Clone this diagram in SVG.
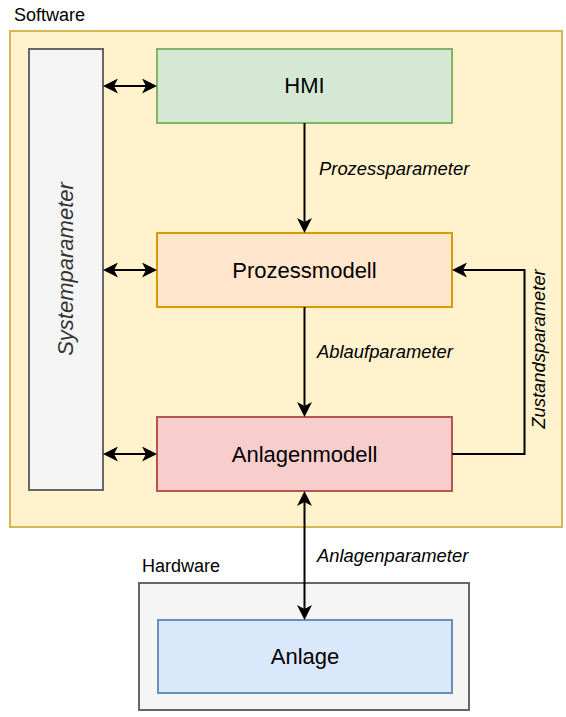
<svg xmlns="http://www.w3.org/2000/svg" width="566" height="717" viewBox="0 0 566 717">
<style>
  .lbl { font-family: "Liberation Sans", Arial, sans-serif; font-size: 22px; fill: #000000; text-anchor: middle; }
  .small { font-family: "Liberation Sans", Arial, sans-serif; font-size: 18px; fill: #000000; }
  .edge { font-family: "Liberation Sans", Arial, sans-serif; font-size: 18.4px; font-style: italic; fill: #000000; }
  .conn { fill: none; stroke: #000000; stroke-width: 2; }
</style>
<defs>
  <marker id="arr" viewBox="0 0 15 15" refX="11" refY="7.5" markerWidth="15" markerHeight="15" markerUnits="userSpaceOnUse" orient="auto-start-reverse">
    <path d="M0,0 L15,7.5 L0,15 L4,7.5 Z" fill="#000000"/>
  </marker>
</defs>
<rect width="566" height="717" fill="#ffffff"/>

<g id="software">
  <rect x="10" y="31" width="552" height="496" fill="#fff2cc" stroke="#d6b656" stroke-width="2"/>
  <text class="small" x="14" y="21">Software</text>
</g>

<g id="hardware">
  <rect x="139" y="583" width="330" height="127" fill="#f5f5f5" stroke="#666666" stroke-width="2"/>
  <text class="small" x="142" y="572">Hardware</text>
</g>

<g id="systemparameter">
  <rect x="29" y="49" width="74" height="441" fill="#f5f5f5" stroke="#666666" stroke-width="2"/>
  <text class="lbl" style="font-style:italic;fill:#333333" transform="translate(73,269) rotate(-90)">Systemparameter</text>
</g>

<g id="hmi">
  <rect x="157" y="49" width="295" height="74" fill="#d5e8d4" stroke="#82b366" stroke-width="2"/>
  <text class="lbl" x="304.5" y="93">HMI</text>
</g>

<g id="prozessmodell">
  <rect x="157" y="233" width="295" height="74" fill="#ffe6cc" stroke="#d79b00" stroke-width="2"/>
  <text class="lbl" x="304.5" y="277.5">Prozessmodell</text>
</g>

<g id="anlagenmodell">
  <rect x="157" y="417" width="295" height="74" fill="#f8cecc" stroke="#b85450" stroke-width="2"/>
  <text class="lbl" x="304.5" y="461.5">Anlagenmodell</text>
</g>

<g id="anlage">
  <rect x="158" y="620" width="294" height="73" fill="#dae8fc" stroke="#6c8ebf" stroke-width="2"/>
  <text class="lbl" x="305" y="664">Anlage</text>
</g>

<g id="connectors">
  <line class="conn" x1="107" y1="86" x2="153" y2="86" marker-start="url(#arr)" marker-end="url(#arr)"/>
  <line class="conn" x1="107" y1="270" x2="153" y2="270" marker-start="url(#arr)" marker-end="url(#arr)"/>
  <line class="conn" x1="107" y1="454" x2="153" y2="454" marker-start="url(#arr)" marker-end="url(#arr)"/>
  <line class="conn" x1="304.5" y1="123" x2="304.5" y2="229" marker-end="url(#arr)"/>
  <text class="edge" x="319" y="175">Prozessparameter</text>
  <line class="conn" x1="304.5" y1="307" x2="304.5" y2="413" marker-end="url(#arr)"/>
  <text class="edge" x="317" y="358">Ablaufparameter</text>
  <polyline class="conn" points="452,454 524.5,454 524.5,270 456,270" marker-end="url(#arr)"/>
  <text class="edge" transform="translate(545,349) rotate(-90)" text-anchor="middle">Zustandsparameter</text>
  <line class="conn" x1="304.5" y1="495" x2="304.5" y2="616" marker-start="url(#arr)" marker-end="url(#arr)"/>
  <text class="edge" x="317" y="562">Anlagenparameter</text>
</g>
</svg>
